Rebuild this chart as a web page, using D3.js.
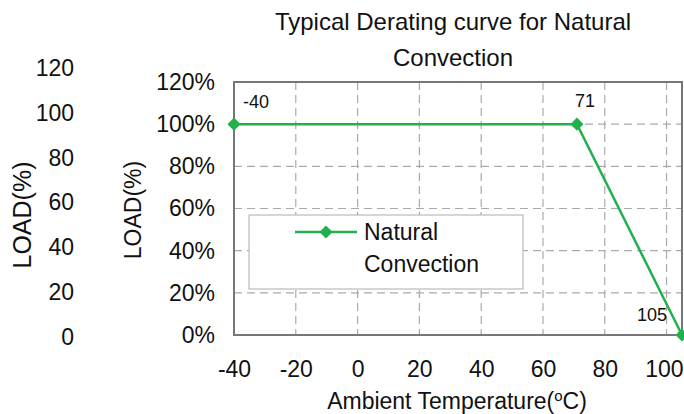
<!DOCTYPE html>
<html lang="en">
  <head>
    <meta charset="UTF-8">
    <title>Typical Derating curve for Natural Convection</title>
    <script src="https://d3js.org/d3.v7.min.js"></script>
    <style>
      body { margin: 0; background: #fff; }
      text { font-family: "Liberation Sans", Arial, sans-serif; fill: #111; }
    </style>
  </head>
  <body>
    <script>
      // data
      const temps = [-40, 71, 105];
      const loads = [1.0, 1.0, 0.0];
      const pointLabels = ["-40", "71", "105"];
      const xTicks = [-40, -20, 0, 20, 40, 60, 80, 100];
      const yTicks = [0, 0.2, 0.4, 0.6, 0.8, 1.0, 1.2];
      const outerTicks = [0, 20, 40, 60, 80, 100, 120];

      const w = 684;
      const h = 414;
      const green = "#22b04c";

      const svg = d3.select("body")
        .append("svg")
        .attr("width", w)
        .attr("height", h);

      const x = d3.scaleLinear().domain([-40, 105]).range([234, 682]);
      const y = d3.scaleLinear().domain([0, 1.2]).range([335, 82]);
      const yOuter = d3.scaleLinear().domain([0, 120]).range([337, 68]);

      // title
      svg.append("text")
        .attr("x", 453).attr("y", 30)
        .attr("text-anchor", "middle")
        .style("font-size", "24px")
        .text("Typical Derating curve for Natural");
      svg.append("text")
        .attr("x", 453).attr("y", 66)
        .attr("text-anchor", "middle")
        .style("font-size", "24px")
        .text("Convection");

      // grid
      svg.append("g")
        .selectAll("line")
        .data(yTicks.filter(d => d > 0 && d < 1.2))
        .enter().append("line")
        .attr("x1", x(-40)).attr("x2", x(105))
        .attr("y1", d => y(d)).attr("y2", d => y(d))
        .attr("stroke", "#aaa").attr("stroke-width", 1.2)
        .attr("stroke-dasharray", "8,5");

      svg.append("g")
        .selectAll("line")
        .data(xTicks.filter(d => d > -40))
        .enter().append("line")
        .attr("x1", d => x(d)).attr("x2", d => x(d))
        .attr("y1", y(1.2)).attr("y2", y(0))
        .attr("stroke", "#aaa").attr("stroke-width", 1.2)
        .attr("stroke-dasharray", "8,5");

      // frame
      svg.append("rect")
        .attr("x", x(-40)).attr("y", y(1.2))
        .attr("width", x(105) - x(-40))
        .attr("height", y(0) - y(1.2))
        .attr("fill", "none")
        .attr("stroke", "#777").attr("stroke-width", 2);

      // inner y axis labels
      const yAxis = d3.axisLeft(y)
        .tickValues(yTicks)
        .tickFormat(d3.format(".0%"))
        .tickSize(0).tickPadding(19);
      const gy = svg.append("g")
        .attr("transform", `translate(${x(-40)},0)`)
        .call(yAxis);
      gy.select(".domain").remove();
      gy.selectAll("text").style("font-size", "23px").attr("fill", "#111");

      // x axis labels, plain hyphen like the original
      const xAxis = d3.axisBottom(x)
        .tickValues(xTicks)
        .tickFormat(d => String(d))
        .tickSize(0).tickPadding(26);
      const gx = svg.append("g")
        .attr("transform", `translate(0,${y(0)})`)
        .call(xAxis);
      gx.select(".domain").remove();
      gx.selectAll("text").style("font-size", "23px").attr("fill", "#111");
      // last label sits at the page edge, keep it inside
      gx.selectAll(".tick").filter(d => d === 100).select("text")
        .attr("text-anchor", "end").attr("x", w - 1 - x(100));

      // outer y axis labels (no line)
      const yAxisOuter = d3.axisLeft(yOuter)
        .tickValues(outerTicks)
        .tickSize(0).tickPadding(0);
      const go = svg.append("g")
        .attr("transform", "translate(74,0)")
        .call(yAxisOuter);
      go.select(".domain").remove();
      go.selectAll("text").style("font-size", "23px").attr("fill", "#111");

      // axis titles
      svg.append("text")
        .attr("transform", "translate(31,215) rotate(-90)")
        .attr("text-anchor", "middle")
        .style("font-size", "25px")
        .text("LOAD(%)");
      svg.append("text")
        .attr("transform", "translate(141,210) rotate(-90)")
        .attr("text-anchor", "middle")
        .style("font-size", "23px")
        .text("LOAD(%)");

      const xt = svg.append("text")
        .attr("x", 457).attr("y", 409)
        .attr("text-anchor", "middle")
        .style("font-size", "23px");
      xt.append("tspan").text("Ambient Temperature(");
      xt.append("tspan").attr("dy", -8).style("font-size", "15px").text("o");
      xt.append("tspan").attr("dy", 8).text("C)");

      // legend
      svg.append("rect")
        .attr("x", 249).attr("y", 215)
        .attr("width", 274).attr("height", 74)
        .attr("fill", "#fff")
        .attr("stroke", "#bbb").attr("stroke-width", 1.2);
      svg.append("line")
        .attr("x1", 295).attr("x2", 357)
        .attr("y1", 232).attr("y2", 232)
        .attr("stroke", green).attr("stroke-width", 2.5);
      svg.append("path")
        .attr("d", d3.symbol(d3.symbolDiamond2, 110)())
        .attr("transform", "translate(326,232)")
        .attr("fill", green);
      svg.append("text")
        .attr("x", 364).attr("y", 240)
        .style("font-size", "23px")
        .text("Natural");
      svg.append("text")
        .attr("x", 364).attr("y", 272)
        .style("font-size", "23px")
        .text("Convection");

      // series
      const pts = temps.map((t, i) => [t, loads[i]]);
      svg.append("path")
        .datum(pts)
        .attr("d", d3.line().x(d => x(d[0])).y(d => y(d[1])))
        .attr("fill", "none")
        .attr("stroke", green).attr("stroke-width", 2.5);

      svg.selectAll(".pt")
        .data(pts)
        .enter().append("path")
        .attr("class", "pt")
        .attr("d", d3.symbol(d3.symbolDiamond2, 110)())
        .attr("transform", d => `translate(${x(d[0])},${y(d[1])})`)
        .attr("fill", green);

      // point labels
      const labelPos = [
        { dx: 9, dy: -16, anchor: "start" },
        { dx: 8, dy: -17, anchor: "middle" },
        { dx: -30, dy: -14, anchor: "middle" }
      ];
      svg.selectAll(".lbl")
        .data(pts)
        .enter().append("text")
        .attr("class", "lbl")
        .attr("x", (d, i) => x(d[0]) + labelPos[i].dx)
        .attr("y", (d, i) => y(d[1]) + labelPos[i].dy)
        .attr("text-anchor", (d, i) => labelPos[i].anchor)
        .style("font-size", "18px")
        .text((d, i) => pointLabels[i]);
    </script>
  </body>
</html>
